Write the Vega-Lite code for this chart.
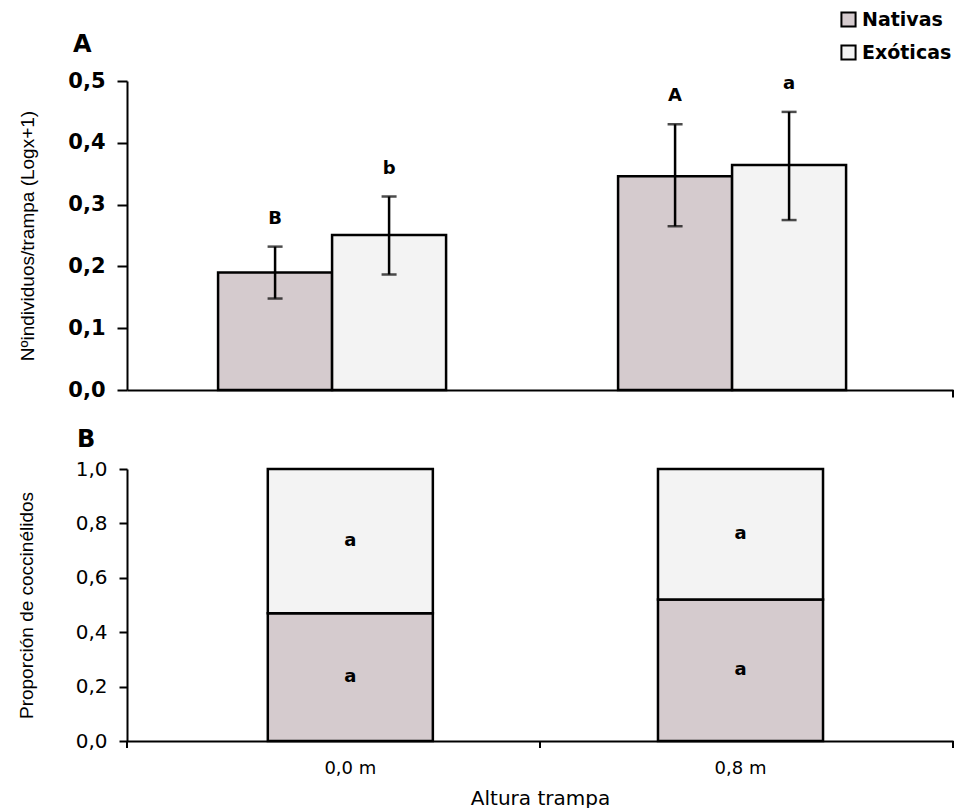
{
  "$schema": "https://vega.github.io/schema/vega-lite/v6.json",
  "background": "white",
  "padding": {"left": 17, "top": 10, "right": 5, "bottom": 0},
  "config": {
    "locale": {"number": {"decimal": ",", "thousands": ".", "grouping": [3], "currency": ["", " €"]}},
    "view": {"stroke": null},
    "font": "DejaVu Sans",
    "axis": {"domainColor": "black", "domainWidth": 2, "tickColor": "black", "tickWidth": 2, "labelColor": "black", "titleColor": "black", "grid": false},
    "title": {"color": "black", "font": "DejaVu Sans", "fontWeight": "bold", "fontSize": 24}
  },
  "datasets": {
    "abundancia": [
      {"altura": "0,0 m", "especie": "Nativas", "media": 0.19, "lo": 0.148, "hi": 0.232, "letra": "B"},
      {"altura": "0,0 m", "especie": "Exóticas", "media": 0.251, "lo": 0.187, "hi": 0.313, "letra": "b"},
      {"altura": "0,8 m", "especie": "Nativas", "media": 0.346, "lo": 0.265, "hi": 0.43, "letra": "A"},
      {"altura": "0,8 m", "especie": "Exóticas", "media": 0.364, "lo": 0.275, "hi": 0.45, "letra": "a"}
    ],
    "proporcion": [
      {"altura": "0,0 m", "especie": "Nativas", "prop": 0.47, "letra": "a"},
      {"altura": "0,0 m", "especie": "Exóticas", "prop": 0.53, "letra": "a"},
      {"altura": "0,8 m", "especie": "Nativas", "prop": 0.52, "letra": "a"},
      {"altura": "0,8 m", "especie": "Exóticas", "prop": 0.48, "letra": "a"}
    ]
  },
  "spacing": 28,
  "vconcat": [
    {
      "title": {"text": "A", "anchor": "start", "frame": "group", "dx": -54, "offset": 13},
      "width": 826,
      "height": 309,
      "layer": [
        {
          "data": {"name": "abundancia"},
          "encoding": {
            "x": {"field": "altura", "type": "nominal", "sort": ["0,0 m", "0,8 m"],
                  "scale": {"paddingInner": 0.43, "paddingOuter": 0.2475, "align": 0.46},
                  "axis": {"labels": false, "ticks": false, "title": null, "domainWidth": 2}},
            "xOffset": {"field": "especie", "type": "nominal", "sort": ["Nativas", "Exóticas"]}
          },
          "layer": [
            {
              "mark": {"type": "bar", "stroke": "black", "strokeWidth": 2.5},
              "encoding": {
                "y": {"field": "media", "type": "quantitative", "title": "Nºindividuos/trampa (Logx+1)",
                      "scale": {"domain": [0, 0.5], "nice": false},
                      "axis": {"values": [0, 0.1, 0.2, 0.3, 0.4, 0.5], "format": ".1f", "tickSize": 10, "labelPadding": 12,
                               "labelFont": "DejaVu Sans", "labelFontSize": 21, "labelFontWeight": "bold",
                               "titleFont": "Liberation Sans", "titleFontSize": 19, "titleFontWeight": "normal",
                               "minExtent": 64, "maxExtent": 64, "titlePadding": 26}},
                "color": {"field": "especie", "type": "nominal",
                          "scale": {"domain": ["Nativas", "Exóticas"], "range": ["#d5cbce", "#f3f3f3"]},
                          "legend": {"orient": "none", "legendX": 712, "legendY": -71, "title": null,
                                     "symbolType": "square", "symbolSize": 200, "symbolStrokeColor": "black", "symbolStrokeWidth": 2,
                                     "labelFont": "DejaVu Sans", "labelFontWeight": "bold", "labelFontSize": 19, "labelColor": "black",
                                     "rowPadding": 10, "labelOffset": 4}}
              }
            },
            {
              "mark": {"type": "rule", "color": "black", "strokeWidth": 2.5},
              "encoding": {
                "y": {"field": "lo", "type": "quantitative", "title": "Nºindividuos/trampa (Logx+1)"},
                "y2": {"field": "hi"}
              }
            },
            {
              "mark": {"type": "tick", "color": "black", "thickness": 2.5, "size": 15, "orient": "horizontal"},
              "encoding": {"y": {"field": "lo", "type": "quantitative", "title": "Nºindividuos/trampa (Logx+1)"}}
            },
            {
              "mark": {"type": "tick", "color": "black", "thickness": 2.5, "size": 15, "orient": "horizontal"},
              "encoding": {"y": {"field": "hi", "type": "quantitative", "title": "Nºindividuos/trampa (Logx+1)"}}
            },
            {
              "mark": {"type": "text", "font": "DejaVu Sans", "fontWeight": "bold", "fontSize": 18, "color": "black", "baseline": "middle", "dy": -28},
              "encoding": {
                "y": {"field": "hi", "type": "quantitative", "title": "Nºindividuos/trampa (Logx+1)"},
                "text": {"field": "letra"}
              }
            }
          ]
        },
        {
          "data": {"values": [{"limite": 2}]},
          "mark": {"type": "rule", "color": "black", "strokeWidth": 2},
          "encoding": {
            "x": {"field": "limite", "type": "quantitative", "scale": {"domain": [0, 2], "nice": false}, "axis": null},
            "y": {"datum": 0, "type": "quantitative", "title": "Nºindividuos/trampa (Logx+1)"},
            "y2": {"datum": -0.012}
          }
        }
      ],
      "resolve": {"scale": {"x": "independent"}, "axis": {"x": "independent"}}
    },
    {
      "title": {"text": "B", "anchor": "start", "frame": "group", "dx": -50, "offset": 7},
      "width": 826,
      "height": 272,
      "layer": [
        {
          "data": {"name": "proporcion"},
          "transform": [
            {"stack": "prop", "groupby": ["altura"], "sort": [{"field": "especie", "order": "descending"}], "as": ["y0", "y1"]},
            {"calculate": "(datum.y0 + datum.y1) / 2", "as": "ymid"}
          ],
          "encoding": {
            "x": {"field": "altura", "type": "nominal", "sort": ["0,0 m", "0,8 m"], "title": "Altura trampa",
                  "scale": {"paddingInner": 0.577, "paddingOuter": 0.347, "align": 0.52},
                  "axis": {"labelAngle": 0, "ticks": false, "labelPadding": 18, "labelFont": "DejaVu Sans", "labelFontSize": 18,
                           "titleFont": "DejaVu Sans", "titleFontSize": 20, "titleFontWeight": "normal", "titlePadding": 11, "domainWidth": 2}}
          },
          "layer": [
            {
              "mark": {"type": "bar", "stroke": "black", "strokeWidth": 2.5},
              "encoding": {
                "y": {"field": "y0", "type": "quantitative", "title": "Proporción de coccinélidos",
                      "scale": {"domain": [0, 1], "nice": false},
                      "axis": {"values": [0, 0.2, 0.4, 0.6, 0.8, 1], "format": ".1f", "tickSize": 8, "labelPadding": 12,
                               "labelFont": "DejaVu Sans", "labelFontSize": 20, "labelFontWeight": "normal",
                               "titleFont": "Liberation Sans", "titleFontSize": 19, "titleFontWeight": "normal",
                               "minExtent": 58, "maxExtent": 58, "titlePadding": 33}},
                "y2": {"field": "y1"},
                "color": {"field": "especie", "type": "nominal",
                          "scale": {"domain": ["Nativas", "Exóticas"], "range": ["#d5cbce", "#f3f3f3"]}}
              }
            },
            {
              "mark": {"type": "text", "font": "DejaVu Sans", "fontWeight": "bold", "fontSize": 18, "color": "black", "baseline": "middle"},
              "encoding": {
                "y": {"field": "ymid", "type": "quantitative", "title": "Proporción de coccinélidos"},
                "text": {"field": "letra"}
              }
            }
          ]
        },
        {
          "data": {"values": [{"limite": 0}, {"limite": 1}, {"limite": 2}]},
          "mark": {"type": "rule", "color": "black", "strokeWidth": 2},
          "encoding": {
            "x": {"field": "limite", "type": "quantitative", "scale": {"domain": [0, 2], "nice": false}, "axis": null},
            "y": {"datum": 0, "type": "quantitative", "title": "Proporción de coccinélidos"},
            "y2": {"datum": -0.026}
          }
        }
      ],
      "resolve": {"scale": {"x": "independent"}, "axis": {"x": "independent"}}
    }
  ]
}
